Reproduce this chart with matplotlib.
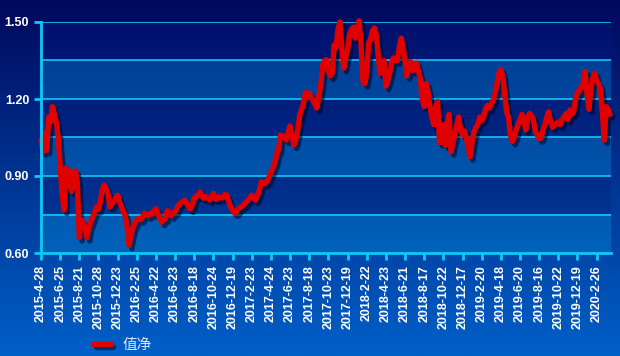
import matplotlib.pyplot as plt
import matplotlib.patheffects as pe
import numpy as np

# tick labels (one every 10 samples, samples every ~4 trading days)
dates = ['2015-4-28', '2015-6-25', '2015-8-21', '2015-10-28', '2015-12-23',
         '2016-2-25', '2016-4-22', '2016-6-23', '2016-8-18', '2016-10-24',
         '2016-12-19', '2017-2-23', '2017-4-24', '2017-6-23', '2017-8-18',
         '2017-10-23', '2017-12-19', '2018-2-22', '2018-4-23', '2018-6-21',
         '2018-8-17', '2018-10-22', '2018-12-17', '2019-2-20', '2019-4-18',
         '2019-6-20', '2019-8-16', '2019-10-22', '2019-12-19', '2020-2-26']

# net value
nav = [1.04, 0.995, 1.07, 1.00, 1.13, 1.11, 1.17, 1.14, 1.107, 1.05,
       0.94, 0.83, 0.767, 0.93, 0.86, 0.92, 0.84, 0.90, 0.92, 0.87,
       0.66, 0.73, 0.72, 0.70, 0.66, 0.70, 0.72, 0.74, 0.76, 0.78,
       0.77, 0.80, 0.85, 0.865, 0.85, 0.83, 0.78, 0.79, 0.80, 0.815,
       0.825, 0.80, 0.78, 0.76, 0.745, 0.70, 0.63, 0.67, 0.70, 0.715,
       0.73, 0.735, 0.73, 0.74, 0.755, 0.75, 0.745, 0.755, 0.752, 0.765,
       0.772, 0.755, 0.735, 0.72, 0.73, 0.735, 0.765, 0.755, 0.745, 0.758,
       0.76, 0.775, 0.79, 0.795, 0.80, 0.806, 0.795, 0.78, 0.772, 0.785,
       0.815, 0.82, 0.825, 0.838, 0.82, 0.813, 0.82, 0.815, 0.806, 0.82,
       0.832, 0.81, 0.81, 0.819, 0.815, 0.815, 0.828, 0.825, 0.80, 0.78,
       0.767, 0.756, 0.76, 0.773, 0.777, 0.782, 0.79, 0.797, 0.805, 0.815,
       0.825, 0.815, 0.806, 0.825, 0.845, 0.877, 0.871, 0.87, 0.88, 0.895,
       0.915, 0.93, 0.95, 0.985, 1.00, 1.06, 1.05, 1.055, 1.04, 1.07,
       1.095, 1.06, 1.02, 1.04, 1.08, 1.135, 1.16, 1.18, 1.225, 1.22,
       1.223, 1.205, 1.195, 1.18, 1.165, 1.21, 1.25, 1.33, 1.35, 1.353,
       1.31, 1.29, 1.30, 1.41, 1.40, 1.47, 1.50, 1.40, 1.32, 1.36,
       1.39, 1.45, 1.47, 1.48, 1.437, 1.47, 1.505, 1.42, 1.27, 1.26,
       1.30, 1.42, 1.43, 1.465, 1.477, 1.45, 1.37, 1.30, 1.32, 1.35,
       1.25, 1.27, 1.30, 1.34, 1.36, 1.35, 1.35, 1.40, 1.437, 1.40,
       1.35, 1.29, 1.33, 1.345, 1.31, 1.32, 1.34, 1.31, 1.28, 1.20,
       1.17, 1.26, 1.23, 1.17, 1.13, 1.10, 1.17, 1.19, 1.03, 1.05,
       1.10, 1.02, 1.10, 1.14, 0.995, 1.03, 1.06, 1.10, 1.13, 1.08,
       1.06, 1.075, 1.05, 1.01, 0.975, 1.03, 1.07, 1.09, 1.10, 1.13,
       1.115, 1.13, 1.16, 1.175, 1.165, 1.18, 1.196, 1.22, 1.26, 1.30,
       1.314, 1.29, 1.22, 1.15, 1.13, 1.06, 1.035, 1.05, 1.08, 1.10,
       1.118, 1.14, 1.12, 1.08, 1.12, 1.144, 1.135, 1.12, 1.075, 1.06,
       1.045, 1.05, 1.08, 1.10, 1.13, 1.15, 1.11, 1.09, 1.10, 1.105,
       1.11, 1.10, 1.12, 1.13, 1.144, 1.12, 1.157, 1.14, 1.15, 1.20,
       1.225, 1.23, 1.248, 1.26, 1.307, 1.22, 1.16, 1.24, 1.28, 1.30,
       1.27, 1.26, 1.24, 1.15, 1.04, 1.17, 1.16, 1.14]

step = 10
n = len(nav)
cyan = '#10c8f8'

plt.rcParams['font.family'] = ['Liberation Sans', 'Noto Sans CJK SC', 'DejaVu Sans']

fig = plt.figure(figsize=(6.2, 3.56), dpi=100)

# outer background: vertical gradient
bg = fig.add_axes([0, 0, 1, 1], zorder=-10)
t = np.linspace(0, 1, 256)[:, None, None]
top_c = np.array([0, 8, 92]) / 255
bot_c = np.array([0, 96, 200]) / 255
bg.imshow(top_c + (bot_c - top_c) * t, aspect='auto', extent=[0, 1, 0, 1])
bg.axis('off')

ax = fig.add_axes([41 / 620, 1 - 253 / 356, 570 / 620, 231 / 356])
xmax = n - 0.5

# plot area: gradient with alternating lighter bands
vals = np.linspace(1.5, 0.6, 460)
frac = (1.5 - vals) / 0.9
dark_top = np.array([0, 16, 110]) / 255
dark_bot = np.array([0, 58, 152]) / 255
cols = dark_top + (dark_bot - dark_top) * frac[:, None]
light = ((np.floor((1.5 - vals) / 0.15 + 1e-9)).astype(int) % 2) == 1
cols[light] += np.array([0, 40, 34]) / 255
ax.imshow(np.clip(cols, 0, 1)[:, None, :], aspect='auto',
          extent=[0, xmax, 0.6, 1.5], zorder=0)

for yv in [0.75, 0.90, 1.05, 1.20, 1.35, 1.50]:
    ax.axhline(yv, color=cyan, lw=1.2, zorder=1)

ax.plot(range(n), nav, color='#e00000', lw=3.9, zorder=3, clip_on=False,
        solid_joinstyle='round', solid_capstyle='round',
        path_effects=[pe.SimpleLineShadow(offset=(2, -2.5), shadow_color='#000420', alpha=0.55),
                      pe.Normal()], label='值净')

ax.set_xlim(0, xmax)
ax.set_ylim(0.6, 1.5)
ax.set_facecolor('none')
for s in ['top', 'right']:
    ax.spines[s].set_visible(False)
for s in ['left', 'bottom']:
    ax.spines[s].set_color(cyan)
    ax.spines[s].set_linewidth(2)
    ax.spines[s].set_zorder(4)

ax.set_yticks([0.6, 0.9, 1.2, 1.5])
ax.set_yticklabels(['0.60', '0.90', '1.20', '1.50'])
ax.set_xticks(range(0, len(dates) * step, step))
ax.set_xticklabels(dates, rotation=90)
ax.tick_params(axis='both', colors=cyan, width=2, length=5, labelcolor='white',
               labelsize=9)
for lab in ax.get_xticklabels() + ax.get_yticklabels():
    lab.set_fontweight('bold')

fig.legend(loc='center left', bbox_to_anchor=(80 / 620, 1 - 345 / 356),
           frameon=False, handlelength=1.2, labelcolor='#dce8ff',
           prop={'family': ['Noto Sans CJK SC'], 'size': 10.5})

fig.savefig('out.png', dpi=100)
